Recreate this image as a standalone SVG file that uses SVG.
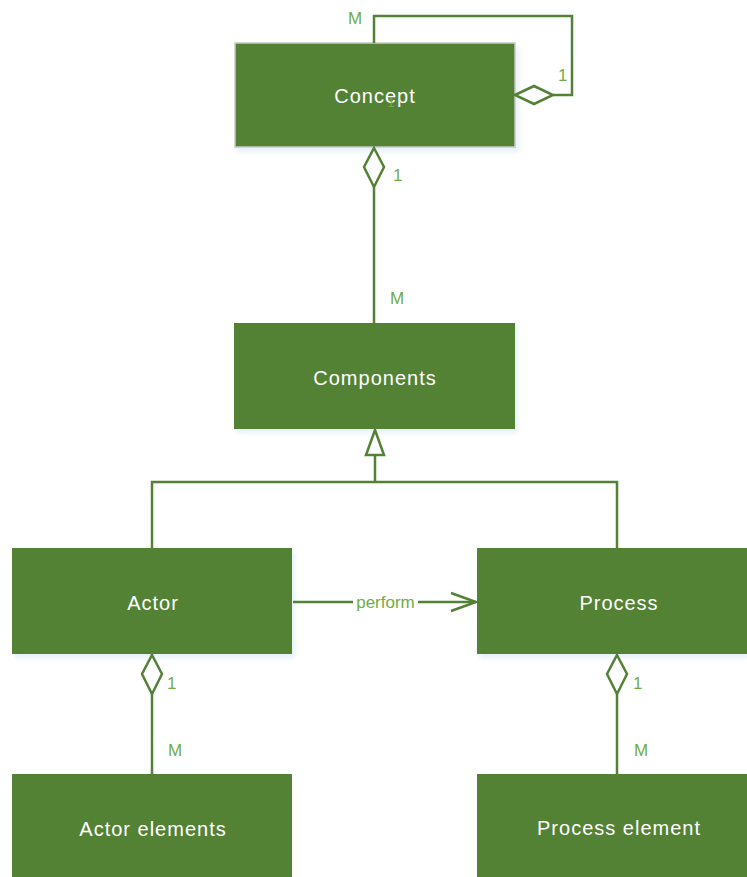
<svg xmlns="http://www.w3.org/2000/svg" width="747" height="877" viewBox="0 0 747 877">
  <style>
    .box { fill: #548235; }
    .box-shadow { fill: #bdd7ee; opacity: 0.35; }
    .name { fill: #ffffff; font-family: "Liberation Sans", "Noto Sans", sans-serif; font-size: 20px; letter-spacing: 1px; text-anchor: middle; dominant-baseline: central; }
    .wire { fill: none; stroke: #538135; stroke-width: 2.5; }
    .hollow { fill: #ffffff; stroke: #538135; stroke-width: 2.5; }
    .mult { fill: #70ad47; font-family: "Liberation Sans", "Noto Sans", sans-serif; font-size: 17px; dominant-baseline: central; }
  </style>
  <defs>
    <filter id="soft" x="-10%" y="-10%" width="120%" height="130%">
      <feGaussianBlur stdDeviation="2"/>
    </filter>
  </defs>
  <rect width="747" height="877" fill="#ffffff"/>

  <!-- classes -->
  <g id="concept">
    <rect class="box-shadow" x="237" y="47" width="282" height="105" filter="url(#soft)"/>
    <rect class="box" x="235" y="43" width="280" height="104" stroke="#c9c9c9" stroke-width="1.5"/>
    <text class="name" x="375" y="96">Concept</text>
  </g>
  <g id="components">
    <rect class="box-shadow" x="236" y="327" width="282" height="106" filter="url(#soft)"/>
    <rect class="box" x="234" y="323" width="281" height="106"/>
    <text class="name" x="375" y="378">Components</text>
  </g>
  <g id="actor">
    <rect class="box-shadow" x="14" y="552" width="281" height="106" filter="url(#soft)"/>
    <rect class="box" x="12" y="548" width="280" height="106"/>
    <text class="name" x="153" y="603">Actor</text>
  </g>
  <g id="process">
    <rect class="box-shadow" x="479" y="552" width="270" height="106" filter="url(#soft)"/>
    <rect class="box" x="477" y="548" width="272" height="106"/>
    <text class="name" x="619" y="603">Process</text>
  </g>
  <g id="actor-elements">
    <rect class="box" x="12" y="774" width="280" height="105"/>
    <text class="name" x="153" y="829">Actor elements</text>
  </g>
  <g id="process-element">
    <rect class="box" x="477" y="774" width="272" height="105"/>
    <text class="name" x="619" y="828">Process element</text>
  </g>

  <!-- relationships -->
  <g id="connectors">
    <!-- Concept self-aggregation -->
    <polyline class="wire" points="374,43 374,16 572,16 572,95 553,95"/>
    <polygon class="hollow" points="515,95 534,86 553,95 534,104"/>
    <text class="mult" x="348" y="18">M</text>
    <text class="mult" x="558" y="75">1</text>
    <text x="391" y="103" fill="#70ad47" font-family="Liberation Sans, sans-serif" font-size="12" text-anchor="middle" dominant-baseline="central">1</text>

    <!-- Concept 1 — M Components -->
    <line class="wire" x1="374" y1="187" x2="374" y2="323"/>
    <polygon class="hollow" points="374,148 384,167 374,187 364,167"/>
    <text class="mult" x="393" y="175">1</text>
    <text class="mult" x="390" y="298">M</text>

    <!-- generalisation: Actor, Process → Components -->
    <polyline class="wire" points="152,548 152,482 617,482 617,548"/>
    <line class="wire" x1="375" y1="482" x2="375" y2="455"/>
    <polygon class="hollow" points="375,430 384,455 366,455"/>

    <!-- Actor perform Process -->
    <line class="wire" x1="293" y1="602" x2="476" y2="602"/>
    <polyline class="wire" points="451,593 476,602 451,611"/>
    <rect x="353" y="593" width="65" height="18" fill="#ffffff"/>
    <text x="385.5" y="602" fill="#70ad47" font-family="Liberation Sans, sans-serif" font-size="17" text-anchor="middle" dominant-baseline="central">perform</text>

    <!-- Actor 1 — M Actor elements -->
    <line class="wire" x1="152" y1="694" x2="152" y2="774"/>
    <polygon class="hollow" points="152,655 162,674 152,694 142,674"/>
    <text class="mult" x="167" y="683">1</text>
    <text class="mult" x="168" y="750">M</text>

    <!-- Process 1 — M Process element -->
    <line class="wire" x1="617" y1="694" x2="617" y2="774"/>
    <polygon class="hollow" points="617,655 627,674 617,694 607,674"/>
    <text class="mult" x="633" y="683">1</text>
    <text class="mult" x="634" y="750">M</text>
  </g>
</svg>
